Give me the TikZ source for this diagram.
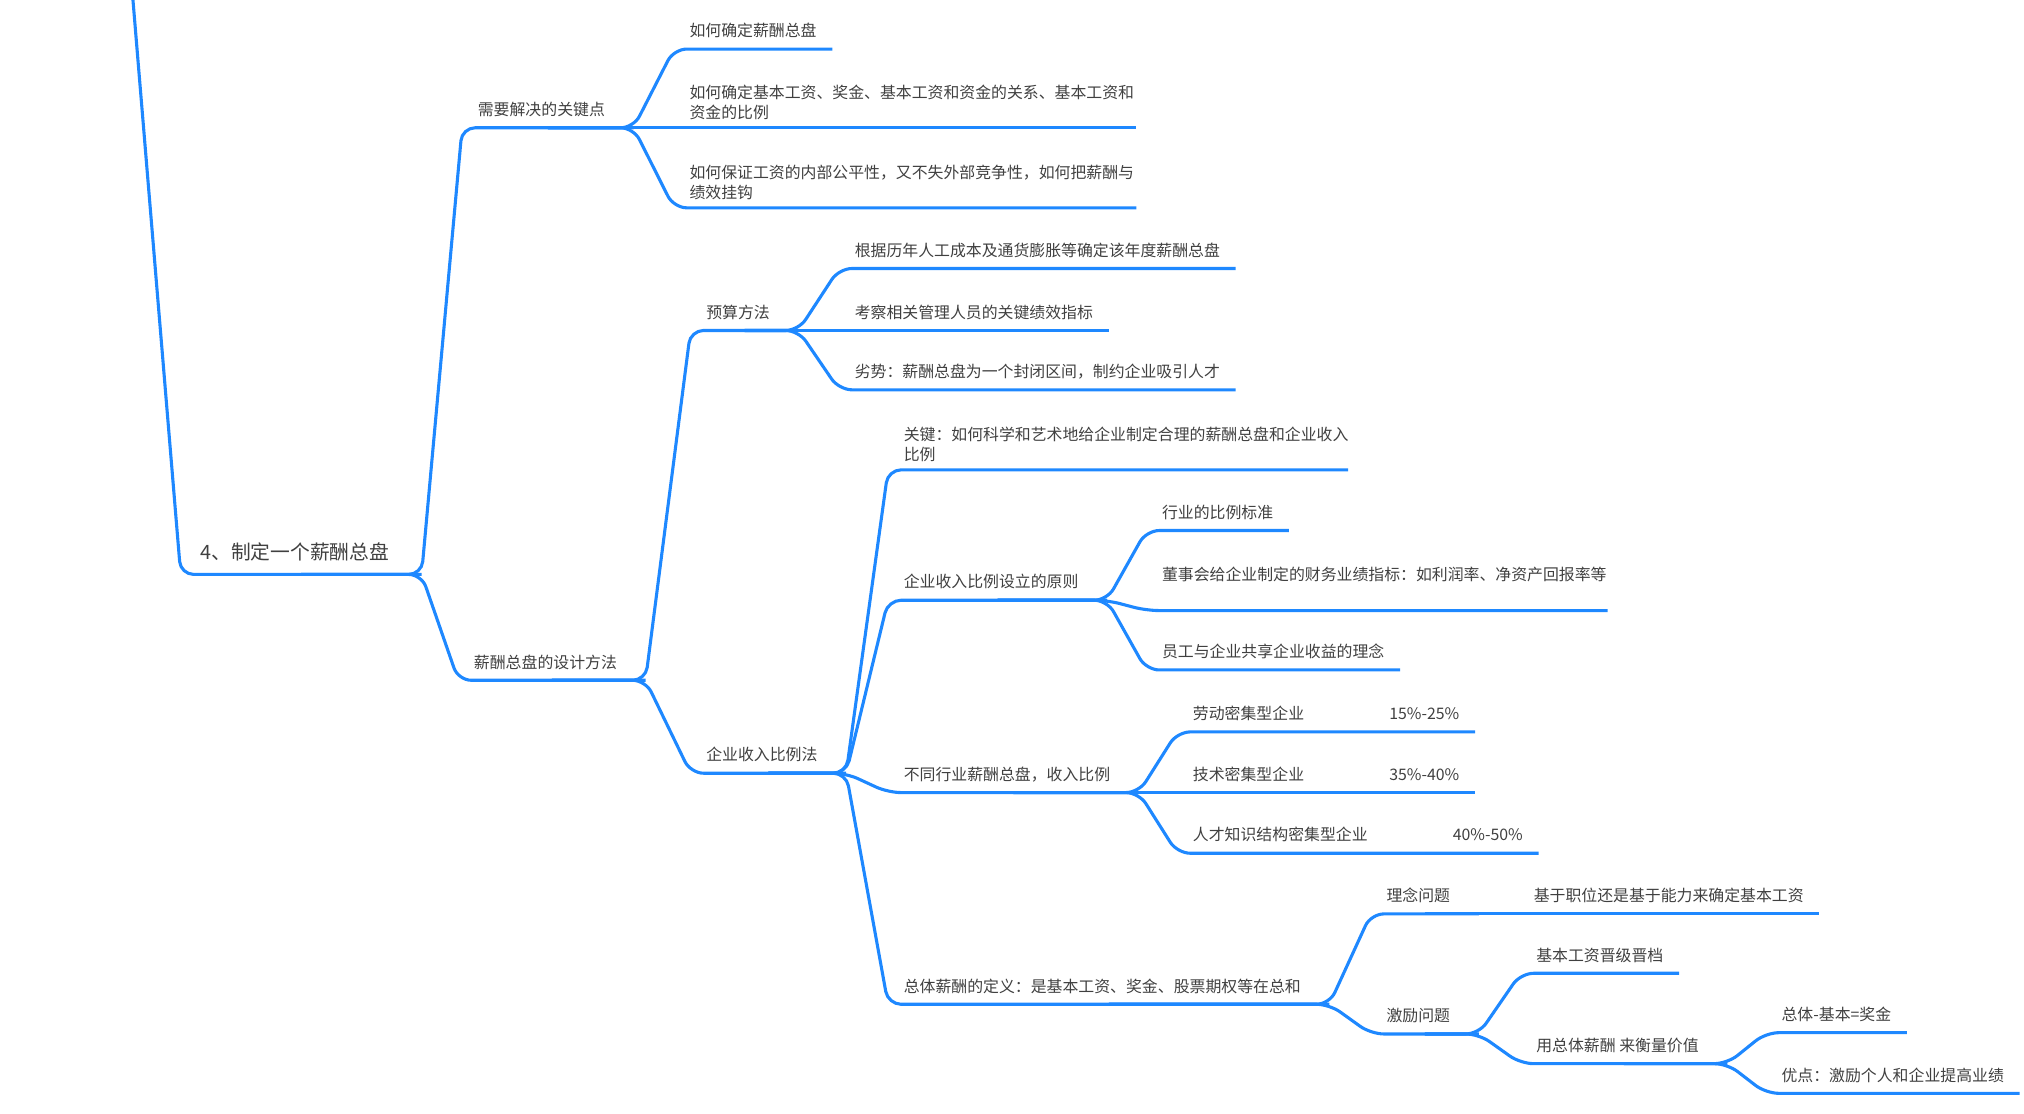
\documentclass[tikz,border=0pt]{standalone}
\usepackage{fontspec}
\setmainfont{Noto Sans CJK SC}
\definecolor{MapBlue}{RGB}{30,136,255}
\definecolor{TextGray}{RGB}{64,64,64}
\tikzset{
  topic/.style={anchor=south west, inner xsep=12pt, inner ysep=6.3pt, text height=9pt, text depth=3pt,
    text=TextGray, font={\fontsize{12.3}{16}\selectfont}},
  hub/.style={topic, execute at end node={\hspace*{10pt}}},
  wrap/.style={topic, align=left, text width=#1, text depth=16.5pt},
  branch/.style={draw=MapBlue, line width=2.4pt, rounded corners=10pt},
}

\begin{document}
\begin{tikzpicture}[x=1pt, y=-1pt]
\useasboundingbox (0,0) rectangle (1568,863);

% Root
\coordinate (top) at (103,0);
\node[hub, inner xsep=15pt, inner ysep=7.7pt, text height=11pt, text depth=3.5pt,
  font={\fontsize{15.3}{19}\selectfont}] (root) at (140,445) {4、制定一个薪酬总盘};

% First level
\node[hub] (k1) at (358,99) {需要解决的关键点};
\node[hub] (k2) at (355,527) {薪酬总盘的设计方法};

% Key points
\node[topic] (k1a) at (522,38) {如何确定薪酬总盘};
\node[wrap=334pt] (k1b) at (522,99) {如何确定基本工资、奖金、基本工资和资金的关系、基本工资和\\资金的比例};
\node[wrap=334pt] (k1c) at (522,161) {如何保证工资的内部公平性，又不失外部竞争性，如何把薪酬与\\绩效挂钩};

% Budget method
\node[hub] (ys) at (535,256) {预算方法};
\node[topic] (ys1) at (650,208) {根据历年人工成本及通货膨胀等确定该年度薪酬总盘};
\node[topic] (ys2) at (650,256) {考察相关管理人员的关键绩效指标};
\node[topic] (ys3) at (650,302) {劣势：薪酬总盘为一个封闭区间，制约企业吸引人才};

% Income ratio method
\node[hub] (sr) at (535,599) {企业收入比例法};
\node[wrap=332pt] (sr1) at (688,364) {关键：如何科学和艺术地给企业制定合理的薪酬总盘和企业收入\\比例};
\node[hub] (sr2) at (688,465) {企业收入比例设立的原则};
\node[hub] (sr3) at (688,614) {不同行业薪酬总盘，收入比例};
\node[hub] (sr4) at (688,778) {总体薪酬的定义：是基本工资、奖金、股票期权等在总和};

\node[topic] (yz1) at (888,411) {行业的比例标准};
\node[wrap=333pt] (yz2) at (888,473) {董事会给企业制定的财务业绩指标：如利润率、净资产回报率等};
\node[topic] (yz3) at (888,519) {员工与企业共享企业收益的理念};

\node[topic] (hy1) at (912,567) {劳动密集型企业\hspace{66pt}15\%-25\%};
\node[topic] (hy2) at (912,614) {技术密集型企业\hspace{66pt}35\%-40\%};
\node[topic] (hy3) at (912,661) {人才知识结构密集型企业\hspace{66pt}40\%-50\%};

\node[hub] (ln) at (1062,708) {理念问题};
\node[topic] (ln1) at (1176,708) {基于职位还是基于能力来确定基本工资};
\node[hub] (jl) at (1062,801) {激励问题};
\node[topic] (jl1) at (1178,754) {基本工资晋级晋档};
\node[hub] (jl2) at (1178,824) {用总体薪酬 来衡量价值};
\node[topic] (jz1) at (1368,800) {总体-基本=奖金};
\node[topic] (jz2) at (1368,847) {优点：激励个人和企业提高业绩};

% Branches
\draw[branch] (top) -- (root.south west) -- (root.south east);
\foreach \a/\b in {root/k1, root/k2, k1/k1a, k1/k1b, k1/k1c, k2/ys, k2/sr,
    ys/ys1, ys/ys2, ys/ys3, sr/sr1, sr/sr2, sr/sr3, sr/sr4,
    sr2/yz1, sr2/yz2, sr2/yz3, sr3/hy1, sr3/hy2, sr3/hy3,
    sr4/ln, sr4/jl, ln/ln1, jl/jl1, jl/jl2, jl2/jz1, jl2/jz2}
  \draw[branch] (\a.south) -- (\a.south east) -- (\b.south west) -- (\b.south east);
\end{tikzpicture}
\end{document}
